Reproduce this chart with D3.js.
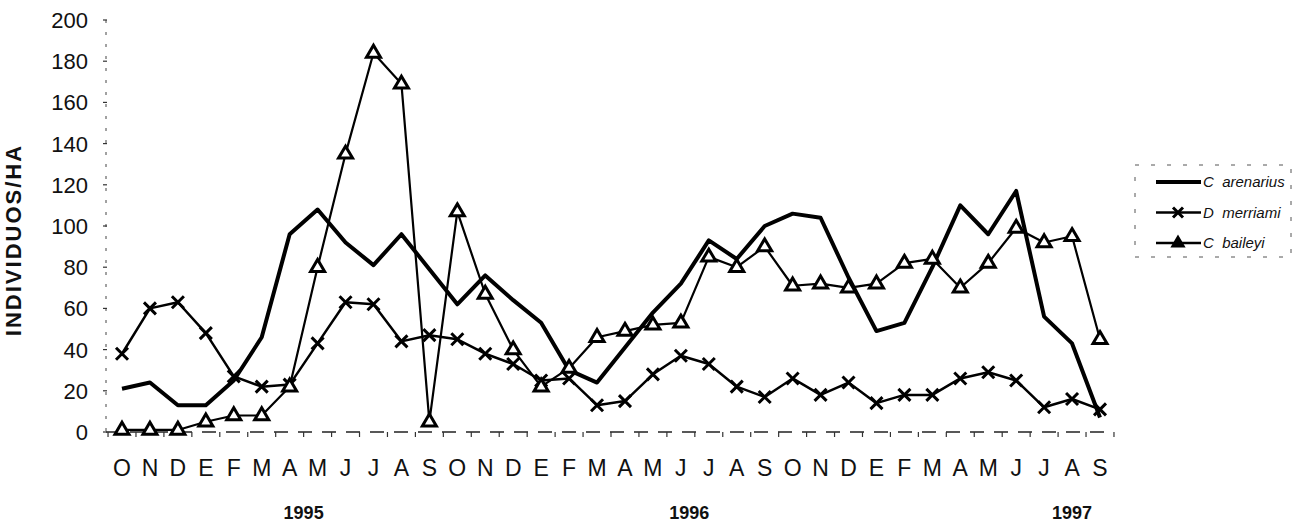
<!DOCTYPE html>
<html>
<head>
<meta charset="utf-8">
<script src="https://cdn.jsdelivr.net/npm/d3@7"></script>
<style>
  body { margin: 0; background: #fff; }
  svg { display: block; font-family: "Liberation Sans", Arial, sans-serif; }
</style>
</head>
<body>
<div class="chart"></div>
<script>
// month labels, Oct 1994 .. Sep 1997
const months = ['O','N','D','E','F','M','A','M','J','J','A','S',
                'O','N','D','E','F','M','A','M','J','J','A','S',
                'O','N','D','E','F','M','A','M','J','J','A','S'];
const years = [{label: '1995', at: 6.5}, {label: '1996', at: 20.3}, {label: '1997', at: 34}];
const yTicks = [0,20,40,60,80,100,120,140,160,180,200];

// individuos / ha
const arenarius = [21,24,13,13,25,46,96,108,92,81,96,79,62,76,64,53,30,24,41,58,72,93,84,100,106,104,75,49,53,80,110,96,117,56,43,7];
const merriami  = [38,60,63,48,27,22,23,43,63,62,44,47,45,38,33,25,26,13,15,28,37,33,22,17,26,18,24,14,18,18,26,29,25,12,16,11];
const baileyi   = [1,1,1,5,8,8,22,80,135,184,169,5,107,67,40,22,31,46,49,52,53,85,80,90,71,72,70,72,82,84,70,82,99,92,95,45];

const width = 1302, height = 527;
const svg = d3.select('.chart').append('svg')
  .attr('width', width)
  .attr('height', height);

const x = d3.scalePoint()
  .domain(d3.range(months.length))
  .range([122, 1100]);
const y = d3.scaleLinear()
  .domain([0, 200])
  .range([432, 20]);
const step = x.step();

// axes (scanned look: broken, light lines)
svg.append('line')
  .attr('x1', 106).attr('x2', 106)
  .attr('y1', y(200)).attr('y2', y(0))
  .attr('stroke', '#444').attr('stroke-width', 1)
  .attr('stroke-dasharray', '3,9');
svg.append('line')
  .attr('x1', 106).attr('x2', x(35) + step / 2)
  .attr('y1', y(0)).attr('y2', y(0))
  .attr('stroke', '#222').attr('stroke-width', 1.5)
  .attr('stroke-dasharray', '14,10');

svg.selectAll('line.ytick')
  .data(yTicks)
  .enter()
  .append('line')
  .attr('class', 'ytick')
  .attr('x1', 103).attr('x2', 107)
  .attr('y1', d => y(d)).attr('y2', d => y(d))
  .attr('stroke', '#333').attr('stroke-width', 1.2);

svg.selectAll('text.ylab')
  .data(yTicks)
  .enter()
  .append('text')
  .attr('class', 'ylab')
  .attr('x', 88)
  .attr('y', d => y(d))
  .attr('dy', '0.36em')
  .attr('text-anchor', 'end')
  .attr('font-size', 22)
  .attr('fill', '#111')
  .text(d => d);

svg.selectAll('line.xtick')
  .data(d3.range(months.length + 1))
  .enter()
  .append('line')
  .attr('class', 'xtick')
  .attr('x1', d => x(0) - step / 2 + d * step)
  .attr('x2', d => x(0) - step / 2 + d * step)
  .attr('y1', y(0)).attr('y2', y(0) + 5)
  .attr('stroke', '#333').attr('stroke-width', 1.2);

svg.selectAll('text.month')
  .data(months)
  .enter()
  .append('text')
  .attr('class', 'month')
  .attr('x', (d, i) => x(i))
  .attr('y', 476)
  .attr('text-anchor', 'middle')
  .attr('font-size', 23)
  .attr('fill', '#111')
  .text(d => d);

svg.selectAll('text.year')
  .data(years)
  .enter()
  .append('text')
  .attr('class', 'year')
  .attr('x', d => x(0) + d.at * step)
  .attr('y', 519)
  .attr('text-anchor', 'middle')
  .attr('font-size', 18)
  .attr('font-weight', 'bold')
  .attr('fill', '#111')
  .text(d => d.label);

svg.append('text')
  .attr('transform', 'translate(21,240) rotate(-90)')
  .attr('text-anchor', 'middle')
  .attr('font-size', 22)
  .attr('font-weight', 'bold')
  .attr('letter-spacing', 2)
  .attr('fill', '#111')
  .text('INDIVIDUOS/HA');

// series
const line = d3.line()
  .x((d, i) => x(i))
  .y(d => y(d));

svg.append('path')
  .datum(baileyi)
  .attr('d', line)
  .attr('fill', 'none')
  .attr('stroke', '#000')
  .attr('stroke-width', 2.2)
  .attr('stroke-linejoin', 'round');

svg.append('path')
  .datum(merriami)
  .attr('d', line)
  .attr('fill', 'none')
  .attr('stroke', '#000')
  .attr('stroke-width', 2.5)
  .attr('stroke-linejoin', 'round');

svg.append('path')
  .datum(arenarius)
  .attr('d', line)
  .attr('fill', 'none')
  .attr('stroke', '#000')
  .attr('stroke-width', 4)
  .attr('stroke-linejoin', 'round');

function cross(g, cx, cy, r) {
  g.append('path')
    .attr('d', `M${cx - r},${cy - r}L${cx + r},${cy + r}M${cx - r},${cy + r}L${cx + r},${cy - r}`)
    .attr('stroke', '#000')
    .attr('stroke-width', 3)
    .attr('fill', 'none');
}
function tri(g, cx, cy, r, fill) {
  g.append('path')
    .attr('d', `M${cx},${cy - r * 1.1}L${cx + r},${cy + r * 0.6}L${cx - r},${cy + r * 0.6}Z`)
    .attr('stroke', '#000')
    .attr('stroke-width', 3)
    .attr('stroke-linejoin', 'miter')
    .attr('fill', fill);
}

const marks = svg.append('g');
merriami.forEach((d, i) => cross(marks, x(i), y(d), 6));
baileyi.forEach((d, i) => tri(marks, x(i), y(d), 7, '#fff'));

// legend
const legend = svg.append('g');
legend.append('rect')
  .attr('x', 1135).attr('y', 165)
  .attr('width', 156).attr('height', 92)
  .attr('fill', 'none')
  .attr('stroke', '#555').attr('stroke-width', 1)
  .attr('stroke-dasharray', '4,12');

const legendItems = [
  {name: 'C  arenarius', width: 4, mark: null},
  {name: 'D  merriami', width: 2.5, mark: 'x'},
  {name: 'C  baileyi', width: 2.5, mark: 'tri'}
];
legendItems.forEach((d, i) => {
  const ly = 182 + i * 30.5;
  legend.append('line')
    .attr('x1', 1156).attr('x2', 1201)
    .attr('y1', ly).attr('y2', ly)
    .attr('stroke', '#000').attr('stroke-width', d.width);
  if (d.mark === 'x') cross(legend, 1178, ly, 5);
  if (d.mark === 'tri') tri(legend, 1178, ly, 5, '#000');
  legend.append('text')
    .attr('x', 1203).attr('y', ly)
    .attr('dy', '0.36em')
    .attr('font-size', 15)
    .attr('font-style', 'italic')
    .attr('fill', '#111')
    .style('white-space', 'pre')
    .text(d.name);
});
</script>
</body>
</html>
